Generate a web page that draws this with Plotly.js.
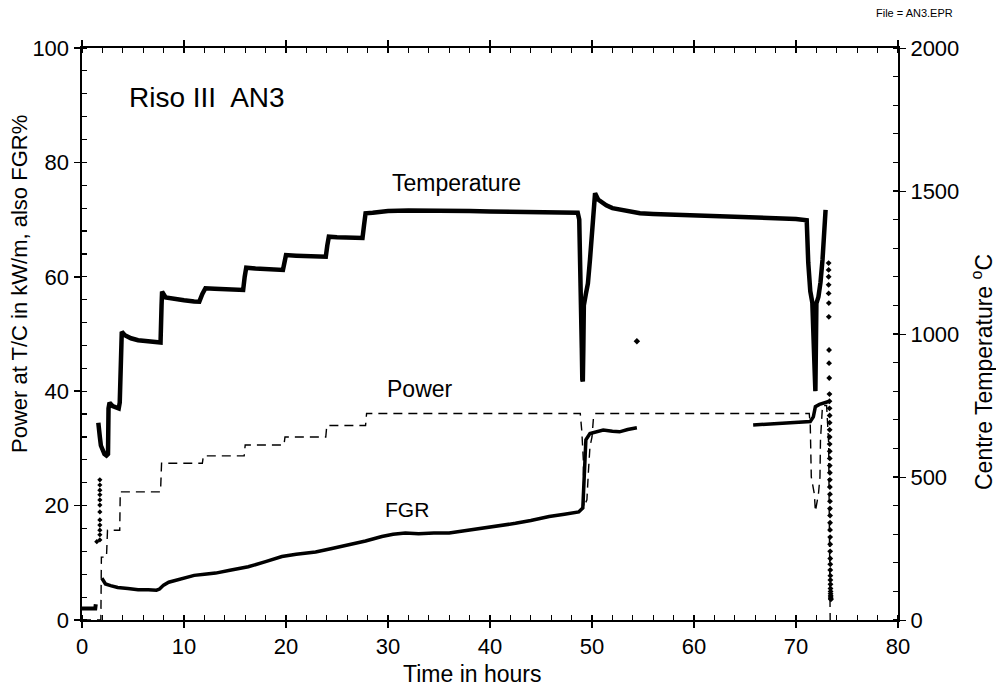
<!DOCTYPE html>
<html>
<head>
<meta charset="utf-8">
<script src="https://cdn.plot.ly/plotly-3.0.1.min.js"></script>
<style>html,body{margin:0;padding:0;background:#fff;}#chart{width:996px;height:695px;}</style>
</head>
<body>
<div id="chart"></div>
<script>
// ---- Data ----
// Centre temperature, degC (right axis)
const tempLowHours = [0, 1.3, 1.35];
const tempLowC     = [40, 40, 55];

const tempRiseHours = [1.45, 1.75, 1.75, 1.75, 1.75, 1.75, 1.75, 1.75, 1.75, 1.75, 1.75, 1.75, 1.75];
const tempRiseC     = [274, 280, 298, 314, 332, 350, 378, 402, 420, 438, 454, 472, 490];

const tempHours = [1.6, 1.65, 1.75, 1.85, 2.0, 2.2, 2.4, 2.55, 2.6, 2.7, 3.0, 3.3, 3.6, 3.7, 3.8, 3.85, 3.9, 4.2, 4.8, 5.5, 6.5, 7.4, 7.7, 7.8, 7.85, 8.2, 9.0, 10.0, 11.0, 11.5, 11.8, 12.1, 13.0, 14.0, 15.0, 15.8, 15.95, 16.1, 17.0, 18.0, 19.0, 19.7, 19.85, 20.0, 21.0, 22.0, 23.0, 23.9, 24.05, 24.2, 25.0, 26.0, 27.5, 27.65, 27.8, 28.5, 30, 32, 34, 36, 38, 40, 42, 44, 46, 48, 48.6, 48.75, 48.8, 48.9, 49.0, 49.05, 49.1, 49.15, 49.2, 49.4, 49.6, 49.8, 49.95, 50.1, 50.3, 50.6, 51.0, 51.4, 52.0, 53.0, 54.7, 56, 58, 60, 62, 64.5, 66, 68, 70, 71.05, 71.2, 71.4, 71.6, 71.75, 71.85, 71.9, 71.95, 72.0, 72.2, 72.4, 72.6, 72.75, 72.9];
const tempC     = [690, 660, 640, 610, 595, 580, 575, 580, 740, 760, 748, 742, 740, 760, 850, 944, 1008, 996, 985, 978, 973, 968, 970, 1100, 1148, 1128, 1122, 1118, 1114, 1113, 1140, 1160, 1158, 1157, 1155, 1154, 1200, 1232, 1229, 1227, 1225, 1224, 1250, 1276, 1274, 1272, 1271, 1270, 1310, 1340, 1338, 1337, 1336, 1380, 1422, 1424, 1430, 1432, 1432, 1430, 1430, 1428, 1427, 1426, 1424, 1422, 1424, 1400, 1250, 1100, 950, 840, 834, 950, 1100, 1140, 1177, 1259, 1317, 1375, 1492, 1470, 1458, 1450, 1440, 1432, 1422, 1420, 1418, 1416, 1414, 1410, 1408, 1405, 1402, 1398, 1250, 1150, 1110, 1000, 850, 800, 900, 1107, 1130, 1180, 1260, 1350, 1434];

// dotted fast descent at the end of the test (dense beads below ~800 degC)
const tempDropHours = [73.2, 73.2, 73.2, 73.2, 73.2, 73.22, 73.22, 73.24, 73.24, 73.26, 73.28, 73.28, 73.29, 73.3, 73.3, 73.3, 73.3, 73.3, 73.31, 73.31, 73.31, 73.32, 73.32, 73.32, 73.33, 73.33, 73.33, 73.34, 73.34, 73.34, 73.35, 73.35, 73.35, 73.36, 73.36, 73.36, 73.37, 73.37, 73.38, 73.38, 73.39, 73.39, 73.4, 73.4, 73.41, 73.42];
const tempDropC     = [1248, 1224, 1200, 1172, 1142, 1108, 1060, 944, 898, 846, 790, 765, 740, 715, 690, 665, 640, 615, 590, 565, 540, 515, 490, 465, 440, 415, 390, 365, 340, 315, 290, 265, 240, 215, 195, 175, 155, 140, 125, 110, 100, 92, 85, 80, 75, 72];

const strayHours = [54.4];
const strayC     = [975];

// Power at T/C, kW/m (left axis)
const powerHours = [0, 1.85, 1.9, 2.4, 2.5, 3.7, 3.75, 7.7, 7.8, 11.8, 11.9, 15.9, 16.0, 19.8, 19.9, 23.9, 24.0, 27.8, 27.9, 48.85, 49.0, 49.15, 49.2, 49.5, 49.65, 49.8, 50.0, 50.15, 50.3, 71.3, 71.4, 71.5, 71.8, 71.9, 72.2, 72.35, 72.4, 72.6, 73.0, 73.2, 73.35];
const powerKW    = [0, 0, 11, 11, 15.7, 15.7, 22.4, 22.4, 27.4, 27.4, 28.7, 28.7, 30.6, 30.6, 32, 32, 34, 34, 36.1, 36.1, 33, 28, 19.8, 21, 26, 30.3, 32, 35.5, 36.1, 36.1, 34, 25, 22, 19, 22, 25, 31.5, 37.5, 37.5, 31, 0];

// Fission gas release, % (left axis)
const fgrHours = [1.95, 2.3, 2.8, 3.5, 4.5, 5.5, 6.5, 7.3, 7.6, 8.0, 8.5, 9.8, 11, 12, 13.1, 14.5, 16.3, 18, 19.6, 21, 22.9, 24.5, 26.1, 27.8, 29.4, 30.5, 31.7, 33, 34.5, 36, 37.5, 39.2, 40.8, 42.5, 44, 45.8, 47.3, 48.7, 49.1, 49.2, 49.3, 49.4, 49.8, 50.5, 51.1, 52, 52.7, 53.5, 54.4, null, 65.8, 67, 68.5, 70, 71.4, 71.7, 71.9, 72.3, 72.7, 73.2];
const fgrPct   = [7.3, 6.3, 6.0, 5.7, 5.5, 5.3, 5.3, 5.2, 5.4, 6.1, 6.6, 7.3, 7.8, 8.0, 8.2, 8.7, 9.3, 10.2, 11.1, 11.5, 11.9, 12.5, 13.1, 13.8, 14.6, 15.0, 15.2, 15.1, 15.2, 15.2, 15.6, 16.0, 16.4, 16.9, 17.4, 18.1, 18.5, 18.9, 19.6, 24.5, 30.3, 31.5, 32.6, 33.0, 33.2, 33.0, 32.9, 33.3, 33.6, null, 34.1, 34.2, 34.4, 34.5, 34.7, 35.5, 37.3, 37.7, 37.9, 38.2];

const xTicks = [0, 10, 20, 30, 40, 50, 60, 70, 80];
const yTicks = [0, 20, 40, 60, 80, 100];
const y2Ticks = [0, 500, 1000, 1500, 2000];

// ---- Traces ----
const ink = '#000';
const traces = [
  {x: tempLowHours, y: tempLowC, yaxis: 'y2', mode: 'lines', line: {color: ink, width: 4}, hoverinfo: 'skip'},
  {x: tempRiseHours, y: tempRiseC, yaxis: 'y2', mode: 'markers', marker: {color: ink, size: 4, symbol: 'diamond'}, hoverinfo: 'skip'},
  {x: tempHours, y: tempC, yaxis: 'y2', mode: 'lines', line: {color: ink, width: 4.5}, hoverinfo: 'skip'},
  {x: tempDropHours, y: tempDropC, yaxis: 'y2', mode: 'markers', marker: {color: ink, size: 4.5, symbol: 'diamond'}, hoverinfo: 'skip'},
  {x: strayHours, y: strayC, yaxis: 'y2', mode: 'markers', marker: {color: ink, size: 5, symbol: 'diamond'}, hoverinfo: 'skip'},
  {x: powerHours, y: powerKW, yaxis: 'y', mode: 'lines', line: {color: ink, width: 1.4, dash: '9px,6px'}, hoverinfo: 'skip'},
  {x: fgrHours, y: fgrPct, yaxis: 'y', mode: 'lines', connectgaps: false, line: {color: ink, width: 3.5}, hoverinfo: 'skip'}
];

const tickFont = {family: 'Liberation Sans, Arial, sans-serif', size: 22, color: ink};
const px2x = p => (p - 82) / 816;
const px2y = p => (620 - p) / 572;

const layout = {
  width: 996, height: 695,
  margin: {l: 82, r: 98, t: 48, b: 75},
  paper_bgcolor: '#fff', plot_bgcolor: '#fff',
  showlegend: false,
  font: {family: 'Liberation Sans, Arial, sans-serif', color: ink},
  xaxis: {
    range: [0, 80], tickvals: xTicks, ticktext: xTicks.map(String),
    ticks: 'outside', ticklen: 6, tickwidth: 1.5, tickcolor: ink,
    minor: {dtick: 2, tick0: 0, ticks: 'inside', ticklen: 5, tickwidth: 1.2, tickcolor: ink},
    showline: true, linewidth: 2, linecolor: ink, mirror: 'ticks',
    showgrid: false, zeroline: false, tickfont: tickFont
  },
  yaxis: {
    range: [0, 100], tickvals: yTicks, ticktext: yTicks.map(String),
    ticks: 'outside', ticklen: 6, tickwidth: 1.5, tickcolor: ink,
    minor: {dtick: 4, tick0: 0, ticks: 'inside', ticklen: 5, tickwidth: 1.2, tickcolor: ink},
    showline: true, linewidth: 2.5, linecolor: ink,
    showgrid: false, zeroline: false, tickfont: tickFont
  },
  yaxis2: {
    overlaying: 'y', side: 'right',
    range: [0, 2000], tickvals: y2Ticks, ticktext: y2Ticks.map(String),
    ticks: 'outside', ticklen: 6, tickwidth: 1, tickcolor: ink,
    minor: {dtick: 100, tick0: 0, ticks: 'inside', ticklen: 5, tickwidth: 1.2, tickcolor: ink},
    showline: true, linewidth: 2, linecolor: ink,
    showgrid: false, zeroline: false, tickfont: tickFont
  },
  annotations: [
    {text: 'Riso III  AN3', x: 4.4, y: 91.4, xref: 'x', yref: 'y', xanchor: 'left', yanchor: 'middle', showarrow: false, font: {size: 28, color: ink}},
    {text: 'Temperature', x: 36.7, y: 76.4, xref: 'x', yref: 'y', xanchor: 'center', yanchor: 'middle', showarrow: false, font: {size: 23, color: ink}},
    {text: 'Power', x: 33.1, y: 40.3, xref: 'x', yref: 'y', xanchor: 'center', yanchor: 'middle', showarrow: false, font: {size: 23, color: ink}},
    {text: 'FGR', x: 31.9, y: 19.4, xref: 'x', yref: 'y', xanchor: 'center', yanchor: 'middle', showarrow: false, font: {size: 21, color: ink}},
    {text: 'Time in hours', x: px2x(472), y: px2y(674), xref: 'paper', yref: 'paper', xanchor: 'center', yanchor: 'middle', showarrow: false, font: {size: 23, color: ink}},
    {text: 'Power at T/C in kW/m, also FGR%', textangle: -90, x: px2x(19), y: px2y(284), xref: 'paper', yref: 'paper', xanchor: 'center', yanchor: 'middle', showarrow: false, font: {size: 22, color: ink}},
    {text: 'Centre Temperature <sup>o</sup>C', textangle: -90, x: px2x(982), y: px2y(372), xref: 'paper', yref: 'paper', xanchor: 'center', yanchor: 'middle', showarrow: false, font: {size: 23, color: ink}},
    {text: 'File = AN3.EPR', x: px2x(915), y: px2y(13), xref: 'paper', yref: 'paper', xanchor: 'center', yanchor: 'middle', showarrow: false, font: {size: 11, color: ink}}
  ]
};

Plotly.newPlot('chart', traces, layout, {staticPlot: true, displayModeBar: false});
</script>
</body>
</html>
